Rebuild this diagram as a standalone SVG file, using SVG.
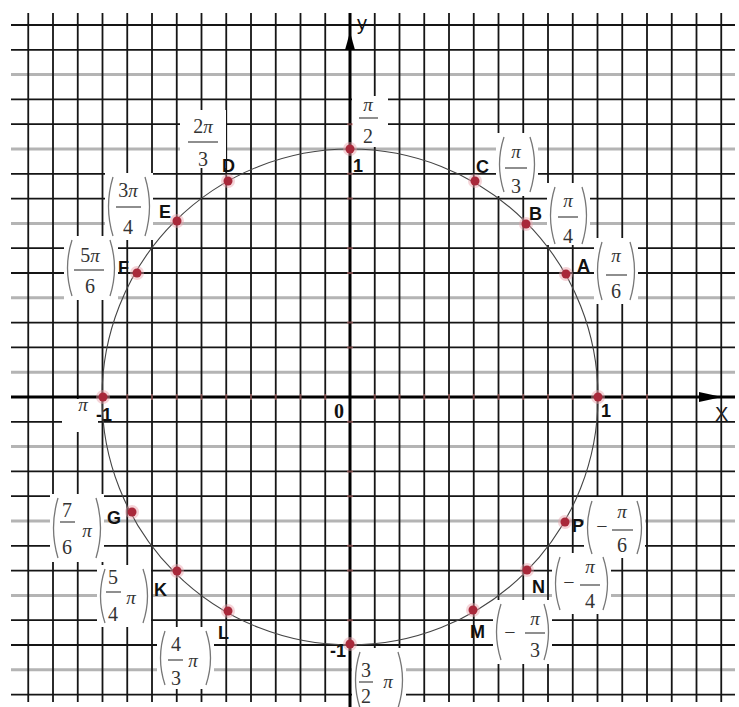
<svg xmlns="http://www.w3.org/2000/svg" width="739" height="707" viewBox="0 0 739 707">
<style>
.g{stroke:#151515;stroke-width:1.8;fill:none}
.gg{stroke:#b4b4b4;stroke-width:3;fill:none}
.ax{stroke:#000;stroke-width:3;fill:none}
.tick{stroke:#d07a7a;stroke-width:2;opacity:0.55}
.lbl{font-family:"Liberation Sans",Arial,sans-serif;font-weight:bold;font-size:18px;fill:#111}
.num{font-family:"Liberation Serif","Times New Roman",serif;font-size:20px;fill:#333;text-anchor:middle}
.pi{font-family:"Liberation Serif","Times New Roman",serif;font-style:italic;font-size:19px;fill:#333}
.bx{fill:#fff}
.par{fill:none;stroke:#777;stroke-width:1.3}
.bar{stroke:#444;stroke-width:1.2}
.dot{fill:#a8283a}
.halo{fill:#e8a0a8;opacity:0.45}
</style>
<rect width="739" height="707" fill="#fff"/>
<g id="grid">
<path class="gg" d="M11 74.6H735M11 149H735M11 223.4H735M11 297.8H735M11 372.2H735M11 446.6H735M11 521H735M11 595.4H735M11 669.8H735"/>
<path class="g" d="M11 25H735M11 49.8H735M11 99.4H735M11 124.2H735M11 173.8H735M11 198.6H735M11 248.2H735M11 273H735M11 322.6H735M11 347.4H735M11 421.8H735M11 471.4H735M11 496.2H735M11 545.8H735M11 570.6H735M11 620.2H735M11 645H735M11 694.6H735"/>
<path class="g" d="M28.25 13V702M53 13V702M77.75 13V702M102.5 13V702M127.25 13V702M152 13V702M176.75 13V702M201.5 13V702M226.25 13V702M251 13V702M275.75 13V702M300.5 13V702M325.25 13V702M374.75 13V702M399.5 13V702M424.25 13V702M449 13V702M473.75 13V702M498.5 13V702M523.25 13V702M548 13V702M572.75 13V702M597.5 13V702M622.25 13V702M647 13V702M671.75 13V702M696.5 13V702M721.25 13V702"/>
</g>
<g id="label-boxes">
<rect class="bx" x="180" y="110" width="46" height="58"/>
<rect class="bx" x="105" y="173" width="48" height="67"/>
<rect class="bx" x="64" y="236" width="54" height="64"/>
<rect class="bx" x="352" y="96" width="36" height="51"/>
<rect class="bx" x="496" y="133" width="42" height="63"/>
<rect class="bx" x="547" y="183" width="43" height="62"/>
<rect class="bx" x="594" y="238" width="44" height="66"/>
<rect class="bx" x="62" y="399" width="36" height="33"/>
<rect class="bx" x="50" y="494" width="54" height="68"/>
<rect class="bx" x="97" y="565" width="54" height="62"/>
<rect class="bx" x="157" y="627" width="57" height="62"/>
<rect class="bx" x="352" y="648" width="54" height="59"/>
<rect class="bx" x="493" y="600" width="59" height="64"/>
<rect class="bx" x="552" y="553" width="59" height="61"/>
<rect class="bx" x="584" y="497" width="61" height="61"/>
</g>
<g id="axes">
<path class="ax" d="M11 397H735"/>
<path class="ax" d="M350 13V707"/>
<path d="M722 397L699 392L699 402Z" fill="#000"/>
<path d="M350 32L345 50L355 50Z" fill="#000"/>
<path class="tick" d="M374.75 394v6M399.5 394v6M424.25 394v6M449 394v6M473.75 394v6M498.5 394v6M523.25 394v6M548 394v6M572.75 394v6M622.25 394v6M647 394v6M325.25 394v6M300.5 394v6M275.75 394v6M251 394v6M226.25 394v6M201.5 394v6M176.75 394v6M152 394v6M127.25 394v6M347 124.2h6M347 173.8h6M347 198.6h6M347 248.2h6M347 273h6M347 322.6h6M347 347.4h6M347 421.8h6M347 471.4h6M347 496.2h6M347 545.8h6M347 570.6h6M347 620.2h6"/>
<text x="357" y="30" font-family="'Liberation Sans',Arial,sans-serif" font-size="20" fill="#111">y</text>
<text x="715" y="421" font-family="'Liberation Sans',Arial,sans-serif" font-size="20" fill="#222">X</text>
<text x="334" y="418" font-family="'Liberation Serif','Times New Roman',serif" font-weight="bold" font-size="20" fill="#111">0</text>
</g>
<g id="unit-circle">
<circle cx="350" cy="397" r="248" fill="none" stroke="#444" stroke-width="1.1"/>
</g>
<g id="pt-0">
<circle class="halo" cx="598" cy="397" r="7"/><circle class="dot" cx="598" cy="397" r="4.5"/>
<text class="lbl" x="601" y="417">1</text>
</g>
<g id="pt-pi2">
<circle class="halo" cx="350" cy="149" r="7"/><circle class="dot" cx="350" cy="149" r="4.5"/>
<text class="pi" x="368" y="111" text-anchor="middle">π</text>
<line class="bar" x1="359" y1="118" x2="378" y2="118"/>
<text class="num" x="368" y="143">2</text>
<text class="lbl" x="353" y="172">1</text>
</g>
<g id="pt-pi">
<circle class="halo" cx="103" cy="397" r="7"/><circle class="dot" cx="103" cy="397" r="4.5"/>
<text class="pi" x="83" y="411" text-anchor="middle" font-size="16">π</text>
<text class="lbl" x="96" y="421">-1</text>
</g>
<g id="pt-3pi2">
<circle class="halo" cx="350" cy="644" r="7"/><circle class="dot" cx="350" cy="644" r="4.5"/>
<text class="lbl" x="330" y="657">-1</text>
<path class="par" d="M360 652Q351 680 360 708M398 652Q407 680 398 708"/>
<text class="num" x="366" y="677">3</text>
<line class="bar" x1="359" y1="682" x2="373" y2="682"/>
<text class="num" x="366" y="703">2</text>
<text class="pi" x="388" y="688" text-anchor="middle" font-size="17">π</text>
</g>
<g id="pt-A">
<circle class="halo" cx="566" cy="274" r="7"/><circle class="dot" cx="566" cy="274" r="4.5"/>
<text class="lbl" x="577" y="272">A</text>
<path class="par" d="M602 242Q593 271 602 300M630 242Q639 271 630 300"/>
<text class="pi" x="616" y="262" text-anchor="middle">π</text>
<line class="bar" x1="606" y1="275" x2="627" y2="275"/>
<text class="num" x="616" y="298">6</text>
</g>
<g id="pt-B">
<circle class="halo" cx="526" cy="224" r="7"/><circle class="dot" cx="526" cy="224" r="4.5"/>
<text class="lbl" x="529" y="220">B</text>
<path class="par" d="M555 187Q546 215.5 555 244M582 187Q591 215.5 582 244"/>
<text class="pi" x="568" y="207" text-anchor="middle">π</text>
<line class="bar" x1="558" y1="217" x2="578" y2="217"/>
<text class="num" x="568" y="243">4</text>
</g>
<g id="pt-C">
<circle class="halo" cx="475" cy="181" r="7"/><circle class="dot" cx="475" cy="181" r="4.5"/>
<text class="lbl" x="476" y="173">C</text>
<path class="par" d="M504 137Q495 164.5 504 192M530 137Q539 164.5 530 192"/>
<text class="pi" x="516" y="158" text-anchor="middle">π</text>
<line class="bar" x1="505" y1="168" x2="527" y2="168"/>
<text class="num" x="516" y="193">3</text>
</g>
<g id="pt-D">
<circle class="halo" cx="228" cy="181" r="7"/><circle class="dot" cx="228" cy="181" r="4.5"/>
<text class="lbl" x="222" y="172">D</text>
<text class="num" x="203" y="133">2<tspan class="pi">π</tspan></text>
<line class="bar" x1="188" y1="142" x2="218" y2="142"/>
<text class="num" x="203" y="166">3</text>
</g>
<g id="pt-E">
<circle class="halo" cx="177" cy="221" r="7"/><circle class="dot" cx="177" cy="221" r="4.5"/>
<text class="lbl" x="159" y="218">E</text>
<path class="par" d="M113 177Q104 206.5 113 236M145 177Q154 206.5 145 236"/>
<text class="num" x="128" y="197">3<tspan class="pi">π</tspan></text>
<line class="bar" x1="116" y1="207" x2="141" y2="207"/>
<text class="num" x="128" y="234">4</text>
</g>
<g id="pt-F">
<circle class="halo" cx="137" cy="273" r="7"/><circle class="dot" cx="137" cy="273" r="4.5"/>
<text class="lbl" x="118" y="274">F</text>
<path class="par" d="M72 240Q63 268 72 296M110 240Q119 268 110 296"/>
<text class="num" x="90" y="262">5<tspan class="pi">π</tspan></text>
<line class="bar" x1="74" y1="270" x2="104" y2="270"/>
<text class="num" x="90" y="293">6</text>
</g>
<g id="pt-G">
<circle class="halo" cx="132" cy="512" r="7"/><circle class="dot" cx="132" cy="512" r="4.5"/>
<text class="lbl" x="107" y="524">G</text>
<path class="par" d="M58 498Q49 528 58 558M96 498Q105 528 96 558"/>
<text class="num" x="67" y="517">7</text>
<line class="bar" x1="60" y1="522" x2="75" y2="522"/>
<text class="num" x="67" y="554">6</text>
<text class="pi" x="87" y="537" text-anchor="middle" font-size="17">π</text>
</g>
<g id="pt-K">
<circle class="halo" cx="177" cy="571" r="7"/><circle class="dot" cx="177" cy="571" r="4.5"/>
<text class="lbl" x="154" y="596">K</text>
<path class="par" d="M105 569Q96 596 105 623M143 569Q152 596 143 623"/>
<text class="num" x="113" y="584">5</text>
<line class="bar" x1="106" y1="592" x2="121" y2="592"/>
<text class="num" x="113" y="621">4</text>
<text class="pi" x="131" y="604" text-anchor="middle" font-size="17">π</text>
</g>
<g id="pt-L">
<circle class="halo" cx="228" cy="611" r="7"/><circle class="dot" cx="228" cy="611" r="4.5"/>
<text class="lbl" x="218" y="639">L</text>
<path class="par" d="M165 631Q156 658 165 685M206 631Q215 658 206 685"/>
<text class="num" x="176" y="651">4</text>
<line class="bar" x1="168" y1="660" x2="183" y2="660"/>
<text class="num" x="176" y="685">3</text>
<text class="pi" x="193" y="667" text-anchor="middle" font-size="17">π</text>
</g>
<g id="pt-M">
<circle class="halo" cx="473" cy="610" r="7"/><circle class="dot" cx="473" cy="610" r="4.5"/>
<text class="lbl" x="470" y="638">M</text>
<path class="par" d="M501 604Q492 632 501 660M544 604Q553 632 544 660"/>
<text class="num" x="510" y="639">−</text>
<text class="pi" x="535" y="625" text-anchor="middle">π</text>
<line class="bar" x1="525" y1="633" x2="545" y2="633"/>
<text class="num" x="535" y="657">3</text>
</g>
<g id="pt-N">
<circle class="halo" cx="527" cy="570" r="7"/><circle class="dot" cx="527" cy="570" r="4.5"/>
<text class="lbl" x="532" y="593">N</text>
<path class="par" d="M560 557Q551 583.5 560 610M603 557Q612 583.5 603 610"/>
<text class="num" x="569" y="589">−</text>
<text class="pi" x="590" y="573" text-anchor="middle">π</text>
<line class="bar" x1="580" y1="585" x2="600" y2="585"/>
<text class="num" x="590" y="608">4</text>
</g>
<g id="pt-P">
<circle class="halo" cx="565" cy="522" r="7"/><circle class="dot" cx="565" cy="522" r="4.5"/>
<text class="lbl" x="572" y="532">P</text>
<path class="par" d="M592 501Q583 527.5 592 554M637 501Q646 527.5 637 554"/>
<text class="num" x="602" y="533">−</text>
<text class="pi" x="622" y="518" text-anchor="middle">π</text>
<line class="bar" x1="612" y1="530" x2="633" y2="530"/>
<text class="num" x="622" y="552">6</text>
</g>
</svg>
